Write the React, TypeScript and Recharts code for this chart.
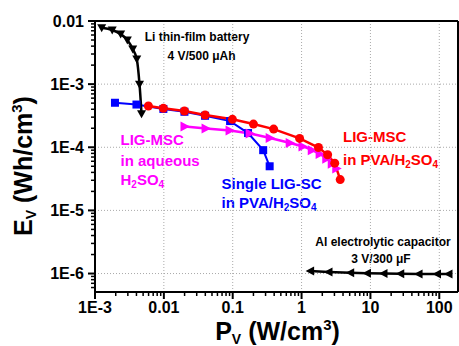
import { LineChart, Line, XAxis, YAxis, ReferenceLine, Customized } from "recharts";

const font = "'Liberation Sans', Arial, sans-serif";

// power density (W/cm3) and energy density (Wh/cm3) per device
const liBatteryP = [0.00125, 0.00178, 0.00236, 0.00295, 0.00353, 0.00404, 0.00443, 0.00474];
const liBatteryE = [0.0078, 0.0072, 0.0062, 0.005, 0.0036, 0.0025, 0.001, 0.00034];

const singleScP = [0.00195, 0.004, 0.00984, 0.0199, 0.0397, 0.0916, 0.167, 0.277, 0.344];
const singleScE = [5.07e-4, 4.75e-4, 4.05e-4, 3.65e-4, 3.15e-4, 2.6e-4, 1.68e-4, 9.0e-5, 5.0e-5];

const pvaMscP = [0.00596, 0.00984, 0.0199, 0.0397, 0.099, 0.2, 0.393, 0.937, 1.76, 2.39, 3.03, 3.64];
const pvaMscE = [4.5e-4, 4.14e-4, 3.75e-4, 3.24e-4, 2.77e-4, 2.33e-4, 1.94e-4, 1.38e-4, 9.9e-5, 7.6e-5, 5.6e-5, 3.08e-5];

const aqMscP = [0.0203, 0.041, 0.0916, 0.179, 0.35, 0.683, 1.05, 1.43, 1.86, 2.32, 2.79, 3.24];
const aqMscE = [2.13e-4, 1.98e-4, 1.84e-4, 1.65e-4, 1.4e-4, 1.17e-4, 1.03e-4, 9.0e-5, 7.8e-5, 6.6e-5, 5.5e-5, 4.6e-5];

const alCapP = [1.33, 2.46, 5.08, 8.9, 15.5, 27.1, 50, 92.6, 136];
const alCapE = [1.1e-6, 1.06e-6, 1.03e-6, 1.01e-6, 1.0e-6, 9.9e-7, 9.8e-7, 9.8e-7, 9.8e-7];

const xMajor = [0.001, 0.01, 0.1, 1, 10, 100];
const xLabels = ["1E-3", "0.01", "0.1", "1", "10", "100"];
const yMajor = [1e-6, 1e-5, 1e-4, 1e-3, 0.01];
const yLabels = ["1E-6", "1E-5", "1E-4", "1E-3", "0.01"];

const xMax = 187;
const yMin = 5.1e-7;

const zip = (p: number[], e: number[]) => p.map((v, i) => ({ p: v, e: e[i] }));

const minorTicks = (majors: number[], lo: number, hi: number) => {
  const out: number[] = [];
  [majors[0] / 10, ...majors].forEach((d) => {
    for (let k = 1; k <= 9; k++) {
      const v = k === 1 ? d : d * k;
      if (v >= lo && v <= hi) out.push(v);
    }
  });
  return out;
};
const xTicks = minorTicks(xMajor, 0.001, xMax);
const yTicks = minorTicks(yMajor, yMin, 0.01);

const XTick = (props: any) => {
  const { x, y, payload } = props;
  const i = xMajor.indexOf(payload.value);
  return (
    <g>
      <line x1={x} x2={x} y1={y} y2={y + (i >= 0 ? 7 : 4)} stroke="#000" strokeWidth={i >= 0 ? 2 : 1.5} />
      {i >= 0 && (
        <text x={x} y={y + 21} textAnchor="middle" fontSize={16} fontWeight="bold" fontFamily={font} fill="#000">
          {xLabels[i]}
        </text>
      )}
    </g>
  );
};

const YTick = (props: any) => {
  const { x, y, payload } = props;
  const i = yMajor.indexOf(payload.value);
  return (
    <g>
      <line x1={x} x2={x - (i >= 0 ? 7 : 4)} y1={y} y2={y} stroke="#000" strokeWidth={i >= 0 ? 2 : 1.5} />
      {i >= 0 && (
        <text x={x - 11} y={y + 5.5} textAnchor="end" fontSize={16} fontWeight="bold" fontFamily={font} fill="#000">
          {yLabels[i]}
        </text>
      )}
    </g>
  );
};

const TriDown = ({ cx, cy }: any) => (
  <path d={`M${cx - 4.5},${cy - 3.5} L${cx + 4.5},${cy - 3.5} L${cx},${cy + 4.5} Z`} fill="#000" />
);
const TriRight = ({ cx, cy, color }: any) => (
  <path d={`M${cx - 4.5},${cy - 5} L${cx + 5},${cy} L${cx - 4.5},${cy + 5} Z`} fill={color} />
);
const TriLeft = ({ cx, cy }: any) => (
  <path d={`M${cx + 4},${cy - 4.5} L${cx - 4.5},${cy} L${cx + 4},${cy + 4.5} Z`} fill="#000" />
);
const Square = ({ cx, cy }: any) => <rect x={cx - 4} y={cy - 4} width={8} height={8} fill="#0000ff" />;
const Circle = ({ cx, cy }: any) => <circle cx={cx} cy={cy} r={4.5} fill="#ff0000" />;

const H2SO4 = () => (
  <>
    H<tspan fontSize={10} dy={3}>2</tspan>
    <tspan dy={-3}>SO</tspan>
    <tspan fontSize={10} dy={3}>4</tspan>
  </>
);

const Notes = () => (
  <g fontFamily={font} fontWeight="bold">
    <text x={197} y={41} textAnchor="middle" fontSize={12} fill="#000">Li thin-film battery</text>
    <text x={201.5} y={59.5} textAnchor="middle" fontSize={12} fill="#000">4 V/500 μAh</text>
    <text x={383} y={246} textAnchor="middle" fontSize={12} fill="#000">Al electrolytic capacitor</text>
    <text x={381} y={262.5} textAnchor="middle" fontSize={12} fill="#000">3 V/300 μF</text>

    <text x={343} y={142} fontSize={15} fill="#ff0000">LIG-MSC</text>
    <text x={343} y={164.5} fontSize={15} fill="#ff0000">in PVA/<H2SO4 /></text>

    <text x={120.5} y={145.3} fontSize={15} fill="#ff00ff">LIG-MSC</text>
    <text x={120.5} y={166.3} fontSize={15} fill="#ff00ff">in aqueous</text>
    <text x={120.5} y={185.3} fontSize={15} fill="#ff00ff"><H2SO4 /></text>

    <text x={221.5} y={188.6} fontSize={15} fill="#0000ff">Single LIG-SC</text>
    <text x={221.5} y={207.6} fontSize={15} fill="#0000ff">in PVA/<H2SO4 /></text>

    <text x={277.5} y={340} textAnchor="middle" fontSize={25} fill="#000">
      P<tspan fontSize={14} dy={4}>V</tspan>
      <tspan dy={-4}> (W/cm</tspan>
      <tspan fontSize={15} dy={-10}>3</tspan>
      <tspan dy={10}>)</tspan>
    </text>
    <text x={31.5} y={166} transform="rotate(-90 31.5 166)" textAnchor="middle" fontSize={25} fill="#000">
      E<tspan fontSize={14} dy={4}>V</tspan>
      <tspan dy={-4}> (Wh/cm</tspan>
      <tspan fontSize={15} dy={-10}>3</tspan>
      <tspan dy={10}>)</tspan>
    </text>
  </g>
);

export default function App() {
  return (
    <div style={{ position: "absolute", left: 0, top: 0, width: 459, height: 346, background: "#fff" }}>
      <LineChart width={459} height={346} margin={{ top: 21, right: 1, bottom: 14, left: 35 }}>
        <XAxis
          dataKey="p"
          type="number"
          scale="log"
          domain={[0.001, xMax]}
          allowDataOverflow
          ticks={xTicks}
          interval={0}
          tick={(p: any) => <XTick {...p} />}
          tickLine={false}
          tickSize={0}
          tickMargin={0}
          axisLine={{ stroke: "#000", strokeWidth: 2 }}
          height={40}
        />
        <YAxis
          dataKey="e"
          type="number"
          scale="log"
          domain={[yMin, 0.01]}
          allowDataOverflow
          ticks={yTicks}
          interval={0}
          tick={(p: any) => <YTick {...p} />}
          tickLine={false}
          tickSize={0}
          tickMargin={0}
          axisLine={{ stroke: "#000", strokeWidth: 2 }}
          width={60}
        />
        {xMajor.slice(1).map((v) => (
          <ReferenceLine key={"gx" + v} x={v} stroke="#aaa" strokeDasharray="1 2" />
        ))}
        {yMajor.slice(0, -1).map((v) => (
          <ReferenceLine key={"gy" + v} y={v} stroke="#aaa" strokeDasharray="1 2" />
        ))}
        <ReferenceLine y={0.01} stroke="#000" strokeWidth={2} />
        <ReferenceLine x={xMax} stroke="#000" strokeWidth={2} />

        <Line
          data={zip(singleScP, singleScE)}
          dataKey="e"
          stroke="#0000ff"
          strokeWidth={2}
          type="linear"
          dot={(p: any) => <Square key={p.index} cx={p.cx} cy={p.cy} />}
          isAnimationActive={false}
        />
        <Line
          data={zip(aqMscP, aqMscE)}
          dataKey="e"
          stroke="#ff00ff"
          strokeWidth={2.5}
          type="linear"
          dot={(p: any) => <TriRight key={p.index} cx={p.cx} cy={p.cy} color="#ff00ff" />}
          isAnimationActive={false}
        />
        <Line
          data={zip(pvaMscP, pvaMscE)}
          dataKey="e"
          stroke="#ff0000"
          strokeWidth={2.5}
          type="linear"
          dot={(p: any) => <Circle key={p.index} cx={p.cx} cy={p.cy} />}
          isAnimationActive={false}
        />
        <Line
          data={zip(liBatteryP, liBatteryE)}
          dataKey="e"
          stroke="#000"
          strokeWidth={2.5}
          type="monotone"
          dot={(p: any) => <TriDown key={p.index} cx={p.cx} cy={p.cy} />}
          isAnimationActive={false}
        />
        <Line
          data={zip(alCapP, alCapE)}
          dataKey="e"
          stroke="#000"
          strokeWidth={2.5}
          type="linear"
          dot={(p: any) => <TriLeft key={p.index} cx={p.cx} cy={p.cy} />}
          isAnimationActive={false}
        />
        <Customized component={Notes} />
      </LineChart>
    </div>
  );
}
